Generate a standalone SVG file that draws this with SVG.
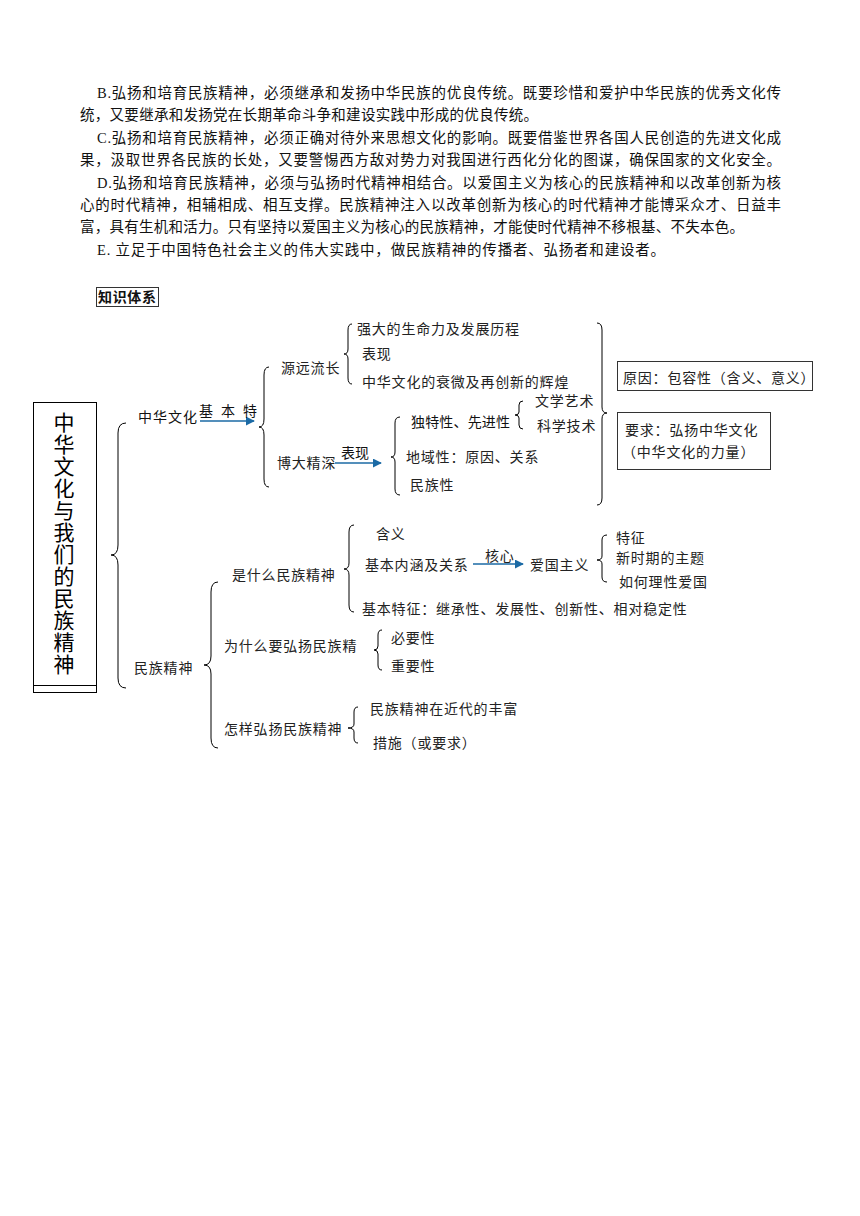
<svg xmlns="http://www.w3.org/2000/svg" width="860" height="1216" viewBox="0 0 860 1216">
<defs>
<style>
.p{font-family:"Liberation Serif","Noto Sans CJK SC",serif;font-size:14.5px;fill:#111}
.t{font-family:"Liberation Serif","Noto Sans CJK SC",serif;font-size:14px;fill:#222;letter-spacing:0.8px}
.s{font-family:"Liberation Sans","Noto Sans CJK SC",sans-serif;font-size:14px;fill:#111}
.title{font-family:"Liberation Sans","Noto Sans CJK SC",sans-serif;font-size:21px;fill:#000;text-anchor:middle}
.br{fill:none;stroke:#000;stroke-width:1}
.box{fill:#fff;stroke:#333;stroke-width:1}
.ar{stroke:#1b6aa5;stroke-width:1.6;fill:none}
</style>
<marker id="ah" viewBox="0 0 10 10" refX="9" refY="5" markerWidth="6" markerHeight="6" orient="auto" markerUnits="userSpaceOnUse">
<path d="M0,0 L10,5 L0,10 z" fill="#1b6aa5"/>
</marker>
<marker id="ah2" viewBox="0 0 10 10" refX="9" refY="5" markerWidth="9" markerHeight="9" orient="auto" markerUnits="userSpaceOnUse">
<path d="M0,0 L10,5 L0,10 z" fill="#1b6aa5"/>
</marker>
</defs>
<rect width="860" height="1216" fill="#fff"/>

<g id="paragraphs">
<text class="p" x="97" y="98" textLength="684" lengthAdjust="spacing">B.弘扬和培育民族精神，必须继承和发扬中华民族的优良传统。既要珍惜和爱护中华民族的优秀文化传</text>
<text class="p" x="80" y="120" textLength="458" lengthAdjust="spacing">统，又要继承和发扬党在长期革命斗争和建设实践中形成的优良传统。</text>
<text class="p" x="97" y="143" textLength="684" lengthAdjust="spacing">C.弘扬和培育民族精神，必须正确对待外来思想文化的影响。既要借鉴世界各国人民创造的先进文化成</text>
<text class="p" x="80" y="165" textLength="701" lengthAdjust="spacing">果，汲取世界各民族的长处，又要警惕西方敌对势力对我国进行西化分化的图谋，确保国家的文化安全。</text>
<text class="p" x="97" y="188" textLength="684" lengthAdjust="spacing">D.弘扬和培育民族精神，必须与弘扬时代精神相结合。以爱国主义为核心的民族精神和以改革创新为核</text>
<text class="p" x="80" y="210" textLength="701" lengthAdjust="spacing">心的时代精神，相辅相成、相互支撑。民族精神注入以改革创新为核心的时代精神才能博采众才、日益丰</text>
<text class="p" x="80" y="232" textLength="664" lengthAdjust="spacing">富，具有生机和活力。只有坚持以爱国主义为核心的民族精神，才能使时代精神不移根基、不失本色。</text>
<text class="p" x="97" y="255" textLength="568" lengthAdjust="spacing">E. 立足于中国特色社会主义的伟大实践中，做民族精神的传播者、弘扬者和建设者。</text>
</g>

<g id="zhishi">
<rect class="box" x="96.5" y="287.5" width="62" height="19"/>
<text class="s" x="98" y="302" font-weight="bold" textLength="58" lengthAdjust="spacing">知识体系</text>
</g>

<g id="title">
<rect x="33.5" y="402.5" width="63" height="290" fill="none" stroke="#000" stroke-width="1"/>
<line x1="33.5" y1="685.5" x2="96.5" y2="685.5" stroke="#000" stroke-width="1"/>
<text class="title"><tspan x="64" y="430">中</tspan><tspan x="64" y="452">华</tspan><tspan x="64" y="474">文</tspan><tspan x="64" y="496">化</tspan><tspan x="64" y="518">与</tspan><tspan x="64" y="540">我</tspan><tspan x="64" y="562">们</tspan><tspan x="64" y="584">的</tspan><tspan x="64" y="606">民</tspan><tspan x="64" y="628">族</tspan><tspan x="64" y="650">精</tspan><tspan x="64" y="672">神</tspan></text>
</g>

<g id="connectors">
<!-- braces -->
<path class="br" stroke-width="3.5" d="M126,423 Q118,423 118,433 L118,545 Q118,555 111,555 Q118,555 118,565 L118,678 Q118,688 126,688"/>
<path class="br" stroke-width="2.5" d="M269,367 Q264,367 264,375 L264,419 Q264,427 259,427 Q264,427 264,435 L264,479 Q264,487 269,487"/>
<path class="br" d="M352,324 Q348,324 348,330 L348,349 Q348,354 344,354 Q348,354 348,359 L348,378 Q348,384 352,384"/>
<path class="br" d="M400,417 Q395,417 395,423 L395,452 Q395,457 391,457 Q395,457 395,462 L395,489 Q395,495 400,495"/>
<path class="br" d="M523,401 Q519,401 519,405 L519,412 Q519,415 515,415 Q519,415 519,418 L519,425 Q519,429 523,429"/>
<path class="br" d="M597,323 Q602,323 602,330 L602,407 Q602,413 607,413 Q602,413 602,419 L602,498 Q602,505 597,505"/>
<path class="br" stroke-width="2.5" d="M218,582 Q211,582 211,592 L211,656 Q211,665 204,665 Q211,665 211,674 L211,738 Q211,748 218,748"/>
<path class="br" d="M354,525 Q349,525 349,532 L349,563 Q349,569 344,569 Q349,569 349,575 L349,605 Q349,612 354,612"/>
<path class="br" d="M607,535 Q602,535 602,540 L602,556 Q602,560 597,560 Q602,560 602,564 L602,577 Q602,582 607,582"/>
<path class="br" d="M382,630 Q378,630 378,635 L378,646 Q378,650 374,650 Q378,650 378,654 L378,665 Q378,670 382,670"/>
<path class="br" d="M358,707 Q354,707 354,712 L354,724 Q354,728 348,728 Q354,728 354,732 L354,738 Q354,743 358,743"/>
<!-- arrows -->
<line class="ar" x1="200" y1="421" x2="254" y2="421" marker-end="url(#ah2)"/>
<line class="ar" x1="335" y1="463" x2="381" y2="463" marker-end="url(#ah2)"/>
<line class="ar" x1="473" y1="564" x2="523" y2="564" marker-end="url(#ah2)"/>
</g>

<g id="n-zhonghua"><text class="s" x="138" y="422" textLength="59" lengthAdjust="spacing">中华文化</text></g>
<g id="l-jibente"><text class="s" x="199" y="416" textLength="58" lengthAdjust="spacing">基 本 特</text></g>
<g id="n-yuanyuan"><text class="t" x="281" y="373">源远流长</text></g>
<g id="n-qiangda"><text class="t" x="357" y="334">强大的生命力及发展历程</text></g>
<g id="n-biaoxian1"><text class="t" x="362" y="359">表现</text></g>
<g id="n-shuaiwei"><text class="t" x="362" y="387">中华文化的衰微及再创新的辉煌</text></g>
<g id="n-boda"><text class="t" x="277" y="468" font-size="13.5" letter-spacing="0.6">博大精深</text></g>
<g id="l-biaoxian2"><text class="s" x="341" y="458">表现</text></g>
<g id="n-dute"><text class="s" x="411" y="427" textLength="99" lengthAdjust="spacing">独特性、先进性</text></g>
<g id="n-wenxue"><text class="t" x="535" y="406">文学艺术</text></g>
<g id="n-kexue"><text class="t" x="537" y="431">科学技术</text></g>
<g id="n-diyu"><text class="t" x="406" y="462">地域性：原因、关系</text></g>
<g id="n-minzuxing"><text class="t" x="410" y="490">民族性</text></g>
<g id="n-yuanyin"><rect class="box" x="617.5" y="361.5" width="195" height="29"/><text class="t" x="623" y="383">原因：包容性（含义、意义）</text></g>
<g id="n-yaoqiu"><rect class="box" x="617.5" y="412.5" width="153" height="57"/><text class="t" x="625" y="435">要求：弘扬中华文化</text><text class="t" x="622" y="457">（中华文化的力量）</text></g>

<g id="n-minzujingshen"><text class="t" x="134" y="673">民族精神</text></g>
<g id="n-shishenme"><text class="t" x="232" y="580">是什么民族精神</text></g>
<g id="n-hanyi"><text class="t" x="376" y="539">含义</text></g>
<g id="n-jiben"><text class="t" x="365" y="570">基本内涵及关系</text></g>
<g id="l-hexin"><text class="t" x="485" y="561">核心</text></g>
<g id="n-aiguo"><text class="t" x="530" y="570">爱国主义</text></g>
<g id="n-tezheng"><text class="t" x="616" y="543">特征</text></g>
<g id="n-xinshiqi"><text class="t" x="616" y="563">新时期的主题</text></g>
<g id="n-ruhe"><text class="t" x="619" y="587">如何理性爱国</text></g>
<g id="n-jibentezheng"><text class="t" x="362" y="614">基本特征：继承性、发展性、创新性、相对稳定性</text></g>
<g id="n-weishenme"><text class="t" x="224" y="651">为什么要弘扬民族精</text></g>
<g id="n-biyao"><text class="t" x="391" y="643">必要性</text></g>
<g id="n-zhongyao"><text class="t" x="391" y="671">重要性</text></g>
<g id="n-zenyang"><text class="t" x="224" y="734">怎样弘扬民族精神</text></g>
<g id="n-jindai"><text class="t" x="370" y="714">民族精神在近代的丰富</text></g>
<g id="n-cuoshi"><text class="t" x="373" y="748">措施（或要求）</text></g>
</svg>
